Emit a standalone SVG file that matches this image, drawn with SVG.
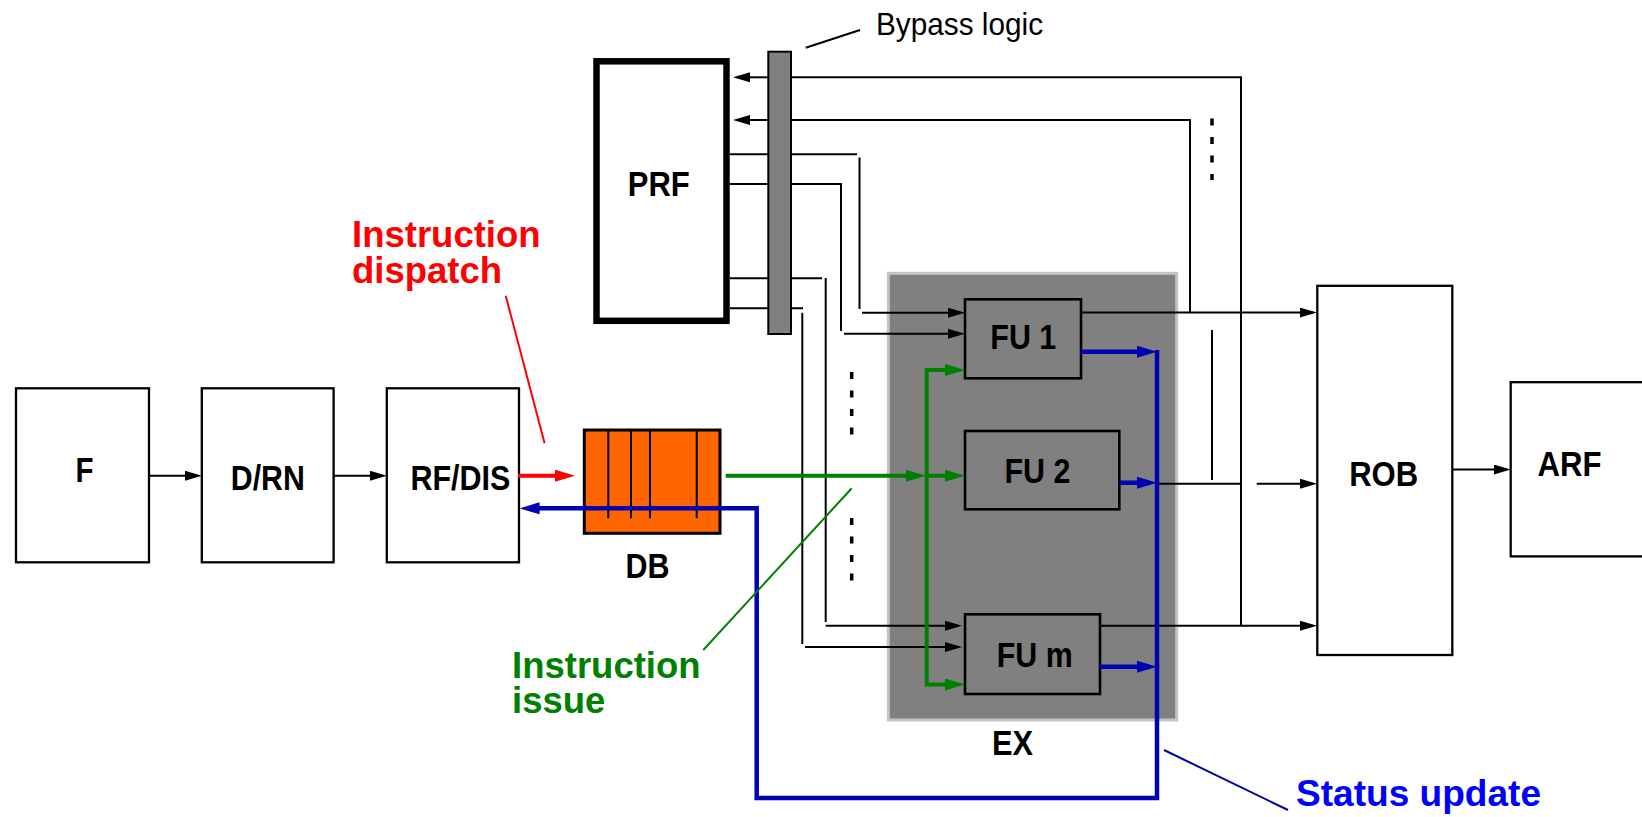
<svg xmlns="http://www.w3.org/2000/svg" width="1642" height="817" viewBox="0 0 1642 817">
<style>
.box{fill:#fff;stroke:#000;stroke-width:2.3}
.fu{fill:none;stroke:#000;stroke-width:2.6}
.lbl{font-family:"Liberation Sans",Arial,sans-serif;font-weight:bold;font-size:35px;fill:#000;text-anchor:middle}
.note{font-family:"Liberation Sans",Arial,sans-serif;font-weight:bold;font-size:36.5px}
.k{fill:none;stroke:#000;stroke-width:2}
.g{fill:none;stroke:#008000;stroke-width:4}
.b{fill:none;stroke:#0000b4;stroke-width:4.5}
.r{fill:none;stroke:#ff0000;stroke-width:4}
.dots{fill:none;stroke:#000;stroke-width:3.5;stroke-dasharray:7 11.5}
</style>
<defs>
<marker id="ak" markerUnits="userSpaceOnUse" markerWidth="18" markerHeight="10" refX="13" refY="5" orient="auto"><path d="M0,0 L17,5 L0,10 z" fill="#000"/></marker>
<marker id="ag" markerUnits="userSpaceOnUse" markerWidth="20" markerHeight="12" refX="12" refY="6" orient="auto"><path d="M0,0 L20,6 L0,12 z" fill="#008000"/></marker>
<marker id="ab" markerUnits="userSpaceOnUse" markerWidth="20" markerHeight="12" refX="12" refY="6" orient="auto"><path d="M0,0 L20,6 L0,12 z" fill="#0000b4"/></marker>
<marker id="ar" markerUnits="userSpaceOnUse" markerWidth="20" markerHeight="12" refX="12" refY="6" orient="auto"><path d="M0,0 L20,6 L0,12 z" fill="#ff0000"/></marker>
</defs>
<rect width="1642" height="817" fill="#fff"/>

<g id="EX">
<rect x="888.3" y="273.3" width="288.4" height="446.7" fill="#808080" stroke="#c4c4c4" stroke-width="3"/>
<text class="lbl" x="1012.5" y="755" textLength="41" lengthAdjust="spacingAndGlyphs">EX</text>
</g>

<g id="F"><rect class="box" x="16" y="388.3" width="133" height="174"/><text class="lbl" x="84.5" y="481.7" textLength="18" lengthAdjust="spacingAndGlyphs">F</text></g>
<g id="DRN"><rect class="box" x="201.8" y="388.3" width="131.8" height="174"/><text class="lbl" x="267.8" y="490" textLength="74" lengthAdjust="spacingAndGlyphs">D/RN</text></g>
<g id="RFDIS"><rect class="box" x="386.8" y="388.3" width="132.2" height="174"/><text class="lbl" x="460.4" y="490" textLength="100" lengthAdjust="spacingAndGlyphs">RF/DIS</text></g>
<g id="DB">
<rect x="584.3" y="430" width="135.7" height="103.3" fill="#ff6600" stroke="#000" stroke-width="3"/>
<path d="M608.3,430 V518.3 M631,430 V518.3 M650,430 V518.3 M696.7,430 V518.3" stroke="#000" stroke-width="2"/>
<text class="lbl" x="647.5" y="578.3" textLength="44" lengthAdjust="spacingAndGlyphs">DB</text>
</g>
<g id="PRF"><rect x="596.5" y="61.3" width="130" height="259.5" fill="#fff" stroke="#000" stroke-width="6.5"/><text class="lbl" x="658.8" y="196" textLength="62" lengthAdjust="spacingAndGlyphs">PRF</text></g>
<g id="FU1"><rect class="fu" x="965" y="299.3" width="116" height="79"/><text class="lbl" x="1023.3" y="349.3" textLength="66" lengthAdjust="spacingAndGlyphs">FU 1</text></g>
<g id="FU2"><rect class="fu" x="965" y="431" width="154.3" height="78.3"/><text class="lbl" x="1037.5" y="482.7" textLength="66" lengthAdjust="spacingAndGlyphs">FU 2</text></g>
<g id="FUm"><rect class="fu" x="965" y="614.3" width="135" height="79.7"/><text class="lbl" x="1034.7" y="666.7" textLength="76" lengthAdjust="spacingAndGlyphs">FU m</text></g>
<g id="ROB"><rect class="box" x="1317.3" y="285.8" width="135" height="369.2"/><text class="lbl" x="1383.7" y="485.6" textLength="69" lengthAdjust="spacingAndGlyphs">ROB</text></g>
<g id="ARF"><rect class="box" x="1510.7" y="382.2" width="140" height="174.2"/><text class="lbl" x="1569.5" y="476" textLength="64" lengthAdjust="spacingAndGlyphs">ARF</text></g>
<g id="Bypass">
<rect x="768.3" y="51.7" width="22.7" height="282.3" fill="#808080" stroke="#000" stroke-width="2"/>
</g>

<g id="connectors">
<!-- pipeline -->
<path class="k" d="M149,475.7 H197.8" marker-end="url(#ak)"/>
<path class="k" d="M333.6,475.7 H382.8" marker-end="url(#ak)"/>
<!-- feedback to PRF -->
<path class="k" d="M1241,625.7 V77.3 H791"/>
<path class="k" d="M768.3,77.3 H737" marker-end="url(#ak)"/>
<path class="k" d="M1190,312.6 V120 H791"/>
<path class="k" d="M768.3,120 H737" marker-end="url(#ak)"/>
<line class="dots" x1="1212" y1="118.5" x2="1212" y2="180"/>
<line class="k" x1="1212" y1="330" x2="1212" y2="480"/>
<!-- PRF reads -->
<path class="k" d="M730,154.3 H768.3 M791,154.3 H857 M859.5,157.5 V309"/>
<path class="k" d="M862,312.7 H961" marker-end="url(#ak)"/>
<path class="k" d="M730,184 H768.3 M791,184 H841 V331"/>
<path class="k" d="M844,333.8 H961" marker-end="url(#ak)"/>
<path class="k" d="M730,278.3 H768.3 M791,278.3 H822 M825.7,278 V622"/>
<path class="k" d="M825.7,625.7 H958" marker-end="url(#ak)"/>
<path class="k" d="M730,308.3 H768.3 M791,308.3 H803 M802.3,312.7 V644"/>
<path class="k" d="M805,647 H958" marker-end="url(#ak)"/>
<line class="dots" x1="851.7" y1="372" x2="851.7" y2="435"/>
<line class="dots" x1="851.7" y1="518" x2="851.7" y2="581"/>
<!-- issue -->
<path class="g" d="M725.7,475.7 H918" marker-end="url(#ag)"/>
<path class="g" d="M926.7,475.7 H957" marker-end="url(#ag)"/>
<path class="g" d="M926.7,475.7 V370 H957" marker-end="url(#ag)"/>
<path class="g" d="M926.7,475.7 V684.5 H957" marker-end="url(#ag)"/>
<!-- FU outputs -->
<path class="k" d="M1081,312.6 H1313" marker-end="url(#ak)"/>
<path class="k" d="M1157,483.7 H1241"/>
<path class="k" d="M1256.7,483.7 H1313" marker-end="url(#ak)"/>
<path class="k" d="M1100,625.7 H1313" marker-end="url(#ak)"/>
<path class="k" d="M1452.3,469.5 H1506.7" marker-end="url(#ak)"/>
<!-- status update -->
<path class="b" d="M1081,351.7 H1149" marker-end="url(#ab)"/>
<path class="b" d="M1119.3,482.7 H1149" marker-end="url(#ab)"/>
<path class="b" d="M1100,666.7 H1149" marker-end="url(#ab)"/>
<path class="b" d="M1157,350 V798 H756.7 V508.3 H527.6" marker-end="url(#ab)"/>
<!-- dispatch -->
<path class="r" d="M518,475.7 H567" marker-end="url(#ar)"/>
<!-- leaders -->
<line x1="505.7" y1="295.7" x2="544.6" y2="443.3" stroke="#ff0000" stroke-width="2"/>
<line x1="851.7" y1="488.3" x2="703.3" y2="650" stroke="#008000" stroke-width="2"/>
<line x1="1164" y1="750" x2="1288" y2="810" stroke="#0000a0" stroke-width="2"/>
<line x1="805.7" y1="47.7" x2="860" y2="30" stroke="#000" stroke-width="2"/>
</g>

<g id="labels">
<text x="876" y="35" font-family="'Liberation Sans',Arial,sans-serif" font-size="32" textLength="167" lengthAdjust="spacingAndGlyphs">Bypass logic</text>
<text class="note" fill="#ff0000"><tspan x="352" y="246.7">Instruction</tspan><tspan x="352" y="282.7">dispatch</tspan></text>
<text class="note" fill="#008000"><tspan x="512" y="678.3">Instruction</tspan><tspan x="512" y="712.5">issue</tspan></text>
<text class="note" fill="#0000ff" x="1296" y="806" textLength="245" lengthAdjust="spacingAndGlyphs">Status update</text>
</g>
</svg>
